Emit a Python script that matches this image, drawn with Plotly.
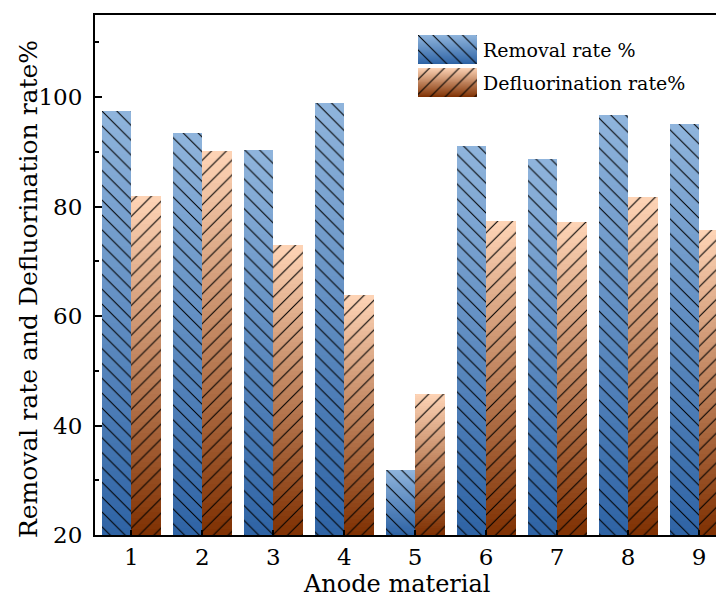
import plotly.graph_objects as go

# ---- data ----
categories = [1, 2, 3, 4, 5, 6, 7, 8, 9]
tick_labels = ["1", "2", "3", "4", "5", "6", "7", "8", "9"]
removal_rate = [97.4, 93.4, 90.3, 98.9, 31.9, 91.0, 88.7, 96.7, 95.1]
defluorination_rate = [81.9, 90.1, 73.0, 63.8, 45.8, 77.4, 77.2, 81.7, 75.7]
series_names = ["Removal rate %", "Defluorination rate%"]
x_title = "Anode material"
y_title = "Removal rate and Defluorination rate%"

# ---- style ----
FONT = "Palatino Linotype, Book Antiqua, Palatino, DejaVu Serif, serif"
Y0 = 20
BAR_W = 0.415
NSEG = 60
BLUE_TOP, BLUE_BOT = (143, 180, 220), (47, 100, 165)
ORNG_TOP, ORNG_BOT = (253, 211, 181), (128, 50, 4)


def lerp(c1, c2, t):
    return "rgb(%d,%d,%d)" % tuple(round(a + (b - a) * t) for a, b in zip(c1, c2))


fig = go.Figure()


def gradient_bars(xs, tops, base, offset, width, ctop, cbot, xa="x", ya="y"):
    heights = [t - base for t in tops]
    for k in range(NSEG):
        frac = (NSEG - k) / NSEG
        fig.add_trace(go.Bar(
            x=xs, y=[h * frac for h in heights], base=base,
            offset=offset, width=width,
            marker=dict(color=lerp(ctop, cbot, k / (NSEG - 1)), line=dict(width=0)),
            showlegend=False, hoverinfo="skip", xaxis=xa, yaxis=ya))


def hatch_bars(xs, tops, base, offset, width, shape, xa="x", ya="y", name=None):
    fig.add_trace(go.Bar(
        x=xs, y=[t - base for t in tops], base=base,
        offset=offset, width=width, name=name,
        marker=dict(color="rgba(0,0,0,0)", line=dict(width=0),
                    pattern=dict(shape=shape, fgcolor="black", size=10.5,
                                 solidity=0.1, fillmode="replace")),
        showlegend=False, hoverinfo="skip", xaxis=xa, yaxis=ya))


gradient_bars(categories, removal_rate, Y0, -BAR_W, BAR_W, BLUE_TOP, BLUE_BOT)
hatch_bars(categories, removal_rate, Y0, -BAR_W, BAR_W, "\\", name=series_names[0])
gradient_bars(categories, defluorination_rate, Y0, 0, BAR_W, ORNG_TOP, ORNG_BOT)
hatch_bars(categories, defluorination_rate, Y0, 0, BAR_W, "/", name=series_names[1])

# ---- custom legend swatches (on a small hidden axis pair) ----
gradient_bars([0], [62], 33, -0.5, 1, BLUE_TOP, BLUE_BOT, "x2", "y2")
hatch_bars([0], [62], 33, -0.5, 1, "\\", "x2", "y2")
gradient_bars([0], [29], 0, -0.5, 1, ORNG_TOP, ORNG_BOT, "x2", "y2")
hatch_bars([0], [29], 0, -0.5, 1, "/", "x2", "y2")

fig.add_annotation(text=series_names[0], xref="paper", yref="paper",
                   x=0.6135, y=0.9325, xanchor="left", yanchor="middle",
                   showarrow=False, font=dict(family=FONT, size=19, color="black"))
fig.add_annotation(text=series_names[1], xref="paper", yref="paper",
                   x=0.6135, y=0.8685, xanchor="left", yanchor="middle",
                   showarrow=False, font=dict(family=FONT, size=19, color="black"))

# axis titles (placed as annotations to match the original's offsets)
fig.add_annotation(text=x_title, xref="paper", yref="paper",
                   x=0.479, y=-0.094, xanchor="center", yanchor="middle",
                   showarrow=False, font=dict(family=FONT, size=24, color="black"))
fig.add_annotation(text=y_title, xref="paper", yref="paper", textangle=-90,
                   x=-0.1065, y=0.473, xanchor="center", yanchor="middle",
                   showarrow=False, font=dict(family=FONT, size=25, color="black"))

# page body has an 8px margin: figure is sized/offset to compensate
fig.update_layout(
    width=716, height=592,
    margin=dict(l=87, r=0, t=7, b=65, autoexpand=False),
    paper_bgcolor="white", plot_bgcolor="white",
    barmode="overlay", bargap=0,
    showlegend=False,
    font=dict(family=FONT, size=22, color="black"),
    xaxis=dict(range=[0.49, 9.35], tickvals=categories, ticktext=tick_labels,
               ticks="inside", ticklen=5, tickwidth=2, tickcolor="black",
               showline=True, linewidth=2, linecolor="black", mirror=True,
               showgrid=False, zeroline=False, automargin=False,
               tickfont=dict(size=23)),
    yaxis=dict(range=[20, 115], tickvals=[20, 40, 60, 80, 100],
               ticks="inside", ticklen=7, tickwidth=2, tickcolor="black",
               minor=dict(tickvals=[30, 50, 70, 90, 110], ticks="inside",
                          ticklen=4, tickwidth=1.5, tickcolor="black"),
               showline=True, linewidth=2, linecolor="black",
               showgrid=False, zeroline=False, automargin=False,
               ticklabelstandoff=6,
               tickfont=dict(size=23)),
    xaxis2=dict(domain=[0.5135, 0.6073], anchor="y2", range=[-0.5, 0.5], visible=False),
    yaxis2=dict(domain=[0.8423, 0.9615], anchor="x2", range=[0, 62], visible=False),
)

fig.write_html("out.html")
